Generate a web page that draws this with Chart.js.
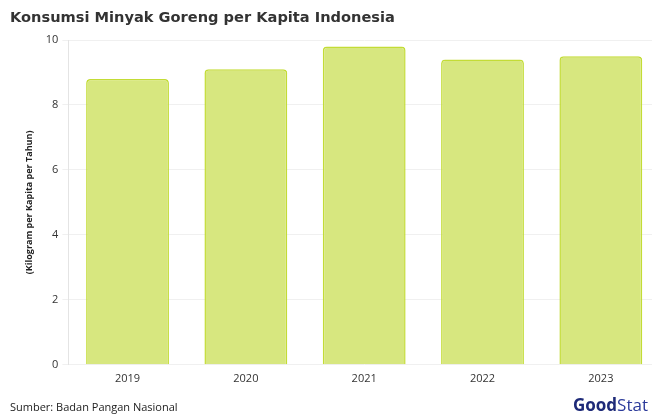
<!DOCTYPE html>
<html>
<head>
<meta charset="utf-8">
<script src="https://cdn.jsdelivr.net/npm/chart.js@4/dist/chart.umd.min.js"></script>
<style>
  html, body { margin: 0; padding: 0; background: #fff; overflow: hidden; }
  #wrap { position: relative; width: 662px; height: 414px; }
</style>
</head>
<body>
<div id="wrap"><canvas id="c"></canvas></div>
<script>
const years = ['2019', '2020', '2021', '2022', '2023'];
const konsumsi = [8.8, 9.1, 9.8, 9.4, 9.5];
const yTicks = [0, 2, 4, 6, 8, 10];

// ── judul, sumber + logo ──
const texts = {
  id: 'texts',
  afterDraw(chart) {
    const ctx = chart.ctx;
    ctx.save();
    ctx.textAlign = 'left';
    ctx.textBaseline = 'middle';
    ctx.fillStyle = '#333';
    ctx.font = 'bold 14.6px "DejaVu Sans"';
    ctx.fillText('Konsumsi Minyak Goreng per Kapita Indonesia', 10, 18);
    ctx.textBaseline = 'alphabetic';
    ctx.fillStyle = '#222';
    ctx.font = '11px "Open Sans"';
    ctx.fillText('Sumber: Badan Pangan Nasional', 10, 411);
    ctx.font = 'bold 17px "Open Sans"';
    ctx.fillStyle = '#1e2a78';
    ctx.fillText('Good', 573, 411);
    const w = ctx.measureText('Good').width;
    ctx.font = '17px "Open Sans"';
    ctx.fillStyle = '#2b3a9a';
    ctx.fillText('Stat', 573 + w, 411);
    ctx.restore();
  }
};

new Chart(document.getElementById('c'), {
  type: 'bar',
  data: {
    labels: years,
    datasets: [{ data: konsumsi,
      backgroundColor: '#d7e77f', borderColor: '#c3dc36', borderWidth: 1.5, borderRadius: 4,
      borderSkipped: 'bottom', categoryPercentage: 0.7, barPercentage: 1 }]
  },
  options: { responsive: true, maintainAspectRatio: false, animation: false,
    layout: { padding: { left: 20, right: 2, top: 40, bottom: 22 } },
    plugins: { legend: { display: false }, tooltip: { enabled: false }, title: { display: false } },
    scales: {
      y: { min: 0, max: 10,
        afterBuildTicks: a => { a.ticks = yTicks.map(v => ({ value: v })); },
        ticks: { color: '#333', font: { family: 'Open Sans', size: 11 }, padding: 4 },
        grid: { color: '#f0f0f0', drawTicks: true, tickLength: 6 },
        border: { color: '#e4e4e4' },
        title: { display: true, text: '(Kilogram per Kapita per Tahun)', color: '#222',
          font: { family: 'Open Sans', size: 9, weight: 'bold' }, padding: { bottom: 7 } } },
      x: { grid: { display: false, drawTicks: false }, border: { display: false },
        ticks: { color: '#333', font: { family: 'Open Sans', size: 11 }, padding: 7 } }
    } },
  plugins: [texts]
});
</script>
</body>
</html>
